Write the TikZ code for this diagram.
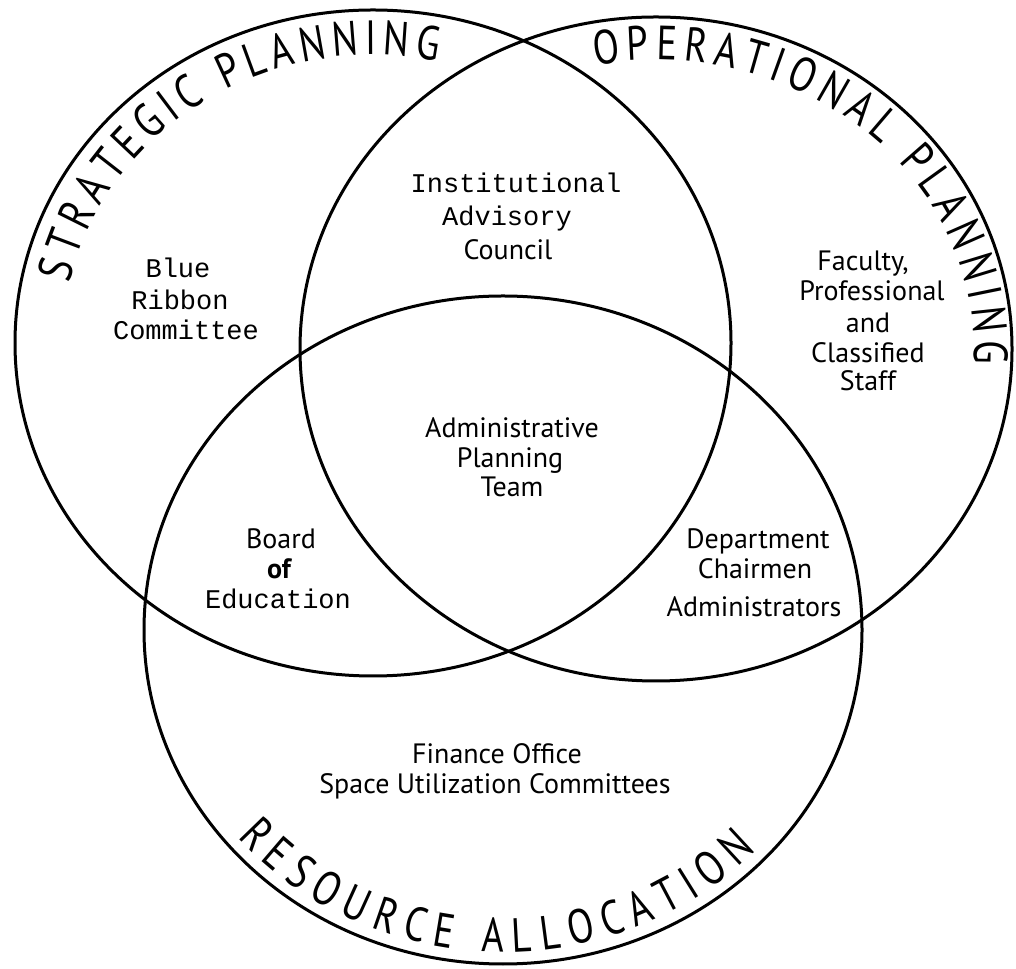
\documentclass[tikz,border=0pt]{standalone}
\usepackage{fontspec}
\setmainfont{PT Sans}
\newfontfamily\monof{Liberation Mono}
\newfontfamily\bigf{PT Sans}[FakeStretch=0.8]
\usetikzlibrary{decorations.text,calc}
\begin{document}
\begin{tikzpicture}[x=0.5pt,y=0.5pt,
  ring/.style={line width=1.5pt},
  sans/.style={anchor=base, inner sep=0pt, font=\fontsize{14}{16}\selectfont},
  mono/.style={anchor=base, inner sep=0pt, font=\monof\fontsize{13.5}{16}\selectfont},
  arclabel/.style={decorate, decoration={text along path, text align=fit to path,
     text={|\bigf\fontsize{24}{26}\selectfont|#1}}}
]
\useasboundingbox (0,0) rectangle (1016,968);
\fill[white] (0,0) rectangle (1016,968);

\coordinate (L) at (373,625);
\coordinate (R) at (656,619);
\coordinate (B) at (503,338);

\draw[ring] (L) ellipse [x radius=358, y radius=333];
\draw[ring] (R) ellipse [x radius=356, y radius=332];
\draw[ring] (B) ellipse [x radius=359, y radius=334];

\path[arclabel=STRATEGIC PLANNING] ($(L)+(168:310 and 288)$) arc[start angle=168, end angle=78, x radius=310, y radius=288];
\path[arclabel=OPERATIONAL PLANNING] ($(R)+(101:318 and 289)$) arc[start angle=101, end angle=-3, x radius=318, y radius=289];
\path[arclabel=RESOURCE ALLOCATION] ($(B)+(220:347 and 322)$) arc[start angle=220, end angle=317, x radius=347, y radius=322];

\node[mono] (inst) at (516,775) {Institutional};
\node[mono] (adv) at (507,742) {Advisory};
\node[sans] (coun) at (508,708) {Council};

\node[mono] (blue) at (178,690) {Blue};
\node[mono] (ribb) at (180,658) {Ribbon};
\node[mono] (comm) at (186,628) {Committee};

\node[sans] (fac) at (863,697) {Faculty,};
\node[sans] (prof) at (872,667) {Professional};
\node[sans] (and) at (868,635) {and};
\node[sans] (clas) at (868,605) {Classified};
\node[sans] (staff) at (868,577) {Staff};

\node[sans] (admin) at (512,530) {Administrative};
\node[sans] (plan) at (510,500) {Planning};
\node[sans] (team) at (512,471) {Team};

\node[sans] (board) at (281,419) {Board};
\node[sans, font=\bfseries\fontsize{14}{16}\selectfont] (of) at (279,389) {of};
\node[mono] (educ) at (278,359) {Education};

\node[sans] (dept) at (758,419) {Department};
\node[sans] (chair) at (755,389) {Chairmen};
\node[sans] (admins) at (754,351) {Administrators};

\node[sans] (fin) at (497,204) {Finance Office};
\node[sans] (space) at (495,174) {Space Utilization Committees};
\end{tikzpicture}
\end{document}
